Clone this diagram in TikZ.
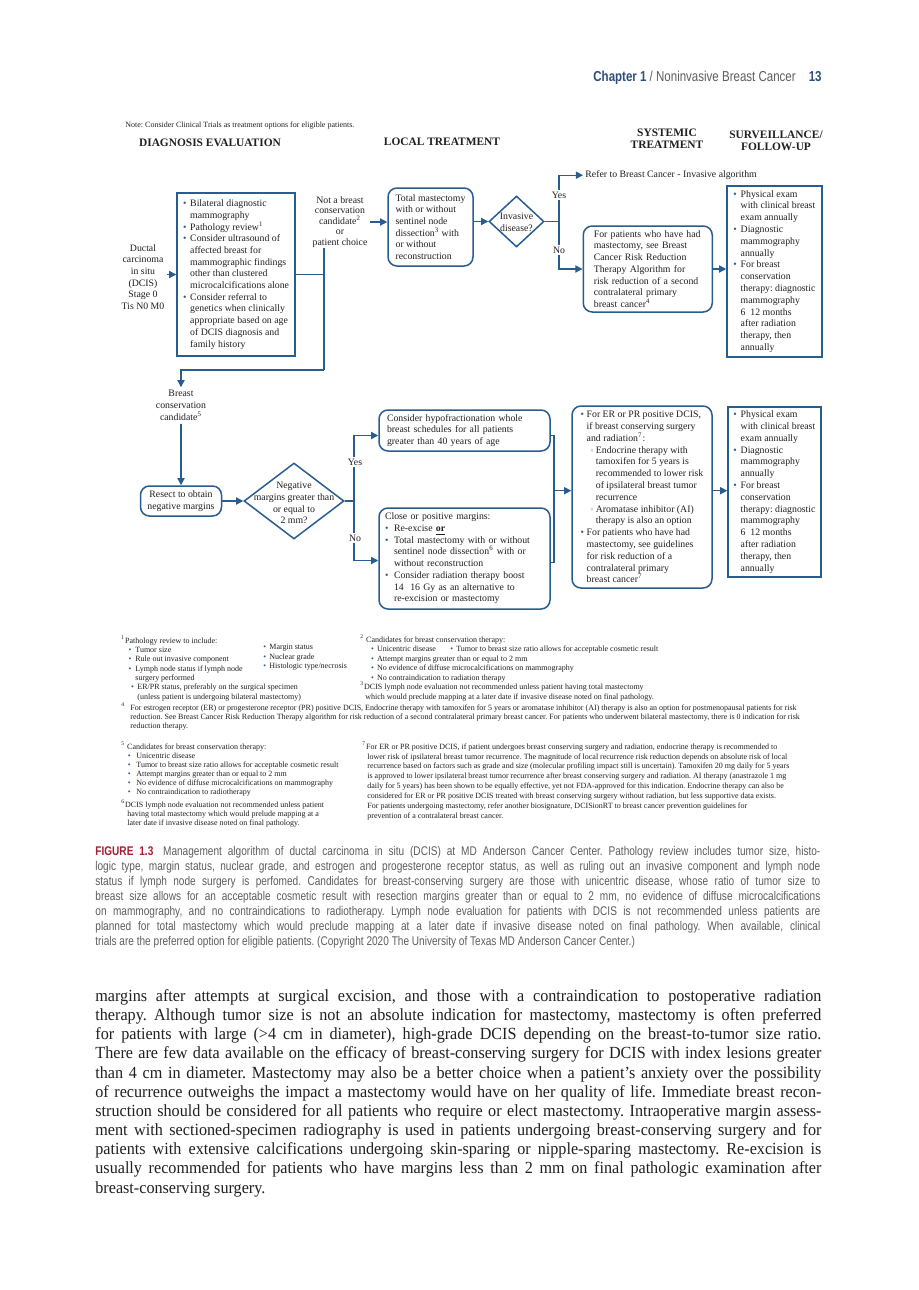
\documentclass[tikz,border=0pt]{standalone}
\usepackage{fontspec}
\setmainfont{Liberation Serif}
\newfontfamily\condsans[FakeStretch=0.8]{Liberation Sans}
\newfontfamily\bodyserif[FakeStretch=0.95]{Liberation Serif}
\newfontfamily\dejavu{DejaVu Sans}
\usetikzlibrary{shapes.geometric,arrows.meta}
\frenchspacing
\definecolor{dblue}{HTML}{2A5D8F}
\definecolor{hblue}{HTML}{2F4E7C}
\definecolor{fred}{HTML}{A31F34}
\definecolor{cgray}{HTML}{5E5E5E}
\definecolor{ink}{HTML}{231F20}
\newcommand\dfont{\fontsize{4.9}{5.85}\selectfont}
\newcommand\dfontb{\fontsize{4.9}{5.9}\selectfont}
\newcommand\hdfont{\fontsize{5.7}{6.1}\selectfont\bfseries}
\newcommand\ffont{\fontsize{4}{4.67}\selectfont}
\newcommand\bul[1][3.6pt]{\makebox[#1][l]{\textcolor{dblue}{•}}}
\newcommand\ind[1][3.6pt]{\hspace*{#1}}
\newcommand\sbul{\makebox[3pt][l]{\textcolor{dblue}{\dejavu\fontsize{3.6}{3.6}\selectfont ◦}}}
\newcommand\jl[2][363pt]{\makebox[#1][s]{#2}}
\begin{document}
\begin{tikzpicture}[x=0.5pt,y=-0.5pt,
  ln/.style={draw=dblue,line width=0.65pt},
  arr/.style={ln,-{Triangle[length=3.6pt,width=3.6pt]}},
  bx/.style={draw=dblue,line width=0.75pt,align=left,font=\dfont,text=ink,inner xsep=2pt,inner ysep=0pt},
  rbx/.style={bx,rounded corners=4.5pt},
  lbl/.style={font=\dfont,align=center,inner sep=1.2pt,text=ink},
  yn/.style={font=\dfont,fill=white,inner sep=0.8pt,text=ink},
  dia/.style={shape=diamond,draw=dblue,line width=0.75pt,inner sep=0pt},
  fn/.style={font=\ffont,align=left,inner sep=0pt,anchor=north west,text=ink},
  hd/.style={font=\hdfont,align=center,inner sep=0pt,text=ink}]
\fill[white] (0,0) rectangle (919,1290);
\useasboundingbox (0,0) rectangle (919,1290);

% running head
\node[anchor=mid west,inner sep=0,font=\condsans\fontsize{7.2}{8}\selectfont] (hdr) at (593,77)
  {\textcolor{hblue}{\bfseries Chapter 1}\ \textcolor{cgray}{/ Noninvasive Breast Cancer}};
\node[anchor=mid east,inner sep=0,font=\condsans\bfseries\fontsize{7.2}{8}\selectfont,text=hblue] (pg) at (822,77) {13};

% note and column heads
\node[fn,anchor=mid west] (note) at (125,123) {Note: Consider Clinical Trials as treatment options for eligible patients.};
\node[hd] (h1) at (210,143) {DIAGNOSIS EVALUATION};
\node[hd] (h2) at (442,142) {LOCAL TREATMENT};
\node[hd] (h3) at (667,139) {SYSTEMIC\\TREATMENT};
\node[hd] (h4) at (776,141) {SURVEILLANCE/\\FOLLOW-UP};

% upper flow
\node[lbl,font=\fontsize{4.9}{5.8}\selectfont] (dc) at (143,277) {Ductal\\carcinoma\\in situ\\(DCIS)\\Stage 0\\Tis N0 M0};
\node[bx,minimum width=59pt,minimum height=81.5pt] (b1) at (236,274.5)
 {\bul Bilateral diagnostic\\\ind mammography\\\bul Pathology review\textsuperscript{1}\\\bul Consider ultrasound of\\\ind affected breast for\\\ind mammographic findings\\\ind other than clustered\\\ind microcalcifications alone\\\bul Consider referral to\\\ind genetics when clinically\\\ind appropriate based on age\\\ind of DCIS diagnosis and\\\ind family history};
\node[lbl,font=\fontsize{4.9}{5.2}\selectfont] (nb) at (340,222) {Not a breast\\conservation\\candidate\textsuperscript{2}\\or\\patient choice};
\node[rbx,minimum width=42.5pt,minimum height=39pt] (tm) at (430.5,227)
 {Total mastectomy\\with or without\\sentinel node\\dissection\textsuperscript{3} with\\or without\\reconstruction};
\node[dia,minimum width=27.5pt,minimum height=25.5pt] (inv) at (516.5,221.5) {};
\node[lbl,inner sep=0pt] (invt) at (516.5,222.5) {Invasive\\disease?};
\coordinate (jv) at (559,221.5);
\node[anchor=mid west,font=\dfont,inner sep=1pt,text=ink] (ref) at (583,173) {Refer to Breast Cancer - Invasive algorithm};
\node[rbx,text width=53.9pt,inner xsep=5.3pt,minimum height=43pt] (fp) at (647.75,269)
 {For patients who have had\\mastectomy, see Breast\\Cancer Risk Reduction\\Therapy Algorithm for\\risk reduction of a second\\contralateral primary\\breast cancer\textsuperscript{4}};
\node[bx,font=\dfontb,minimum width=47.5pt,minimum height=85.5pt] (sv1) at (774.5,271.5)
 {\bul Physical exam\\\ind with clinical breast\\\ind exam annually\\\bul Diagnostic\\\ind mammography\\\ind annually\\\bul For breast\\\ind conservation\\\ind therapy: diagnostic\\\ind mammography\\\ind 6~~12 months\\\ind after radiation\\\ind therapy, then\\\ind annually};

% lower flow
\node[lbl,font=\fontsize{4.9}{6.1}\selectfont] (bcc) at (181,405.5) {Breast\\conservation\\candidate\textsuperscript{5}};
\node[rbx,align=center,minimum width=40.5pt,minimum height=15pt] (rs) at (181,501) {Resect to obtain\\negative margins};
\node[dia,minimum width=50pt,minimum height=38pt] (neg) at (294,501) {};
\node[lbl,inner sep=0pt] (negt) at (294,503) {Negative\\margins greater than\\or equal to\\2 mm?};
\node[rbx,text width=77.5pt,inner xsep=4pt,minimum height=20.5pt] (hf) at (464.5,430.5)
 {Consider hypofractionation whole\\breast schedules for all patients\\greater than 40 years of age};
\node[rbx,text width=79.5pt,inner xsep=3pt,minimum height=50.5pt] (cl) at (464.5,558.5)
 {Close or positive margins:\\\bul[4.5pt]Re-excise \textbf{\underline{or}}\\\bul[4.5pt]Total mastectomy with or without\\\ind[4.5pt]sentinel node dissection\textsuperscript{6} with or\\\ind[4.5pt]without reconstruction\\\bul[4.5pt]Consider radiation therapy boost\\\ind[4.5pt]14~~16 Gy as an alternative to\\\ind[4.5pt]re-excision or mastectomy};
\node[rbx,font=\dfontb,minimum width=70pt,minimum height=91pt] (er) at (642,497)
 {\bul[3pt]For ER or PR positive DCIS,\\\ind[3pt]if breast conserving surgery\\\ind[3pt]and radiation\textsuperscript{7}:\\\ind[4.6pt]\sbul Endocrine therapy with\\\ind[7.6pt]tamoxifen for 5 years is\\\ind[7.6pt]recommended to lower risk\\\ind[7.6pt]of ipsilateral breast tumor\\\ind[7.6pt]recurrence\\\ind[4.6pt]\sbul Aromatase inhibitor (AI)\\\ind[7.6pt]therapy is also an option\\\bul[3pt]For patients who have had\\\ind[3pt]mastectomy, see guidelines\\\ind[3pt]for risk reduction of a\\\ind[3pt]contralateral primary\\\ind[3pt]breast cancer\textsuperscript{7}};
\node[bx,font=\dfontb,minimum width=46.5pt,minimum height=85pt] (sv2) at (774.5,492)
 {\bul Physical exam\\\ind with clinical breast\\\ind exam annually\\\bul Diagnostic\\\ind mammography\\\ind annually\\\bul For breast\\\ind conservation\\\ind therapy: diagnostic\\\ind mammography\\\ind 6~~12 months\\\ind after radiation\\\ind therapy, then\\\ind annually};

% connectors upper
\coordinate (j1) at (324,248);
\coordinate (j2) at (324,370);
\draw[arr] (dc.east |- b1.west) -- (b1.west);
\draw[ln] (b1.east) -- (b1.east -| j1);
\draw[ln] (j1) -- (j2);
\draw[arr] (j2) -| (bcc.north);
\draw[arr] (nb.east) -- (nb.east -| tm.west);
\draw[arr] (tm.east |- inv.west) -- (inv.west);
\draw[ln] (inv.east) -- (jv);
\draw[arr] (jv) |- (ref.west);
\draw[arr] (jv) |- (fp.west);
\node[yn] (yes1) at (559,195) {Yes};
\node[yn] (no1) at (559,250) {No};
\draw[arr] (fp.east) -- (fp.east -| sv1.west);

% connectors lower
\draw[arr] (bcc.south) -- (rs.north);
\draw[arr] (rs.east) -- (neg.west);
\coordinate (jm) at (354,501);
\draw[ln] (neg.east) -- (jm);
\draw[arr] (jm) |- ([yshift=-2.5pt]hf.west);
\draw[arr] (jm) |- ([yshift=-1pt]cl.west);
\node[yn] (yes2) at (355,462) {Yes};
\node[yn] (no2) at (355,538) {No};
\coordinate (jr) at (554,490.7);
\draw[ln] ([yshift=-2.5pt]hf.east) -| (jr);
\draw[ln] (jr) |- ([yshift=-2pt]cl.east);
\draw[arr] (jr) -- (jr -| er.west);
\draw[arr] (jr -| er.east) -- (jr -| sv2.west);

% footnotes
\node[fn] (fn1) at (121,635)
 {\textsuperscript{1}Pathology review to include:\\
  \ind[3.65pt]\bul[3.35pt]Tumor size\\
  \ind[3.65pt]\bul[3.35pt]Rule out invasive component\\
  \ind[3.65pt]\bul[3.35pt]Lymph node status if lymph node\\
  \ind[7pt]surgery performed\\
  \ind[4.85pt]\bul[3.15pt]ER/PR status, preferably on the surgical specimen\\
  \ind[8pt](unless patient is undergoing bilateral mastectomy)};
\node[fn] (fn1b) at (263,644)
 {\bul[3pt]Margin status\\\bul[3pt]Nuclear grade\\\bul[3pt]Histologic type/necrosis};
\node[fn,font=\fontsize{4}{4.78}\selectfont] (fn2) at (360,634)
 {\textsuperscript{2} Candidates for breast conservation therapy:\\
  \ind[5.35pt]\bul[3pt]\makebox[36.6pt][l]{Unicentric disease}\bul[3pt]Tumor to breast size ratio allows for acceptable cosmetic result\\
  \ind[5.35pt]\bul[3pt]Attempt margins greater than or equal to 2 mm\\
  \ind[5.35pt]\bul[3pt]No evidence of diffuse microcalcifications on mammography\\
  \ind[5.35pt]\bul[3pt]No contraindication to radiation therapy\\
  \textsuperscript{3}DCIS lymph node evaluation not recommended unless patient having total mastectomy\\
  \ind[2.5pt]which would preclude mapping at a later date if invasive disease noted on final pathology.};
\node[fn] (fn4) at (121,702)
 {\makebox[4.5pt][l]{\textsuperscript{4}}For estrogen receptor (ER) or progesterone receptor (PR) positive DCIS, Endocrine therapy with tamoxifen for 5 years or aromatase inhibitor (AI) therapy is also an option for postmenopausal patients for risk\\
  \ind[4.5pt]reduction. See Breast Cancer Risk Reduction Therapy algorithm for risk reduction of a second contralateral primary breast cancer. For patients who underwent bilateral mastectomy, there is 0 indication for risk\\
  \ind[4.5pt]reduction therapy.};
\node[fn,font=\fontsize{4}{4.5}\selectfont] (fn5) at (121,741)
 {\textsuperscript{5} Candidates for breast conservation therapy:\\
  \ind[3.25pt]\bul[4.25pt]Unicentric disease\\
  \ind[3.25pt]\bul[4.25pt]Tumor to breast size ratio allows for acceptable cosmetic result\\
  \ind[3.25pt]\bul[4.25pt]Attempt margins greater than or equal to 2 mm\\
  \ind[3.25pt]\bul[4.25pt]No evidence of diffuse microcalcifications on mammography\\
  \ind[3.25pt]\bul[4.25pt]No contraindication to radiotherapy\\[1pt]
  \textsuperscript{6}DCIS lymph node evaluation not recommended unless patient\\
  \ind[3pt]having total mastectomy which would prelude mapping at a\\
  \ind[3pt]later date if invasive disease noted on final pathology.};
\node[fn,font=\fontsize{4}{4.95}\selectfont] (fn7) at (362,741)
 {\textsuperscript{7}For ER or PR positive DCIS, if patient undergoes breast conserving surgery and radiation, endocrine therapy is recommended to\\
  \ind[2.5pt]lower risk of ipsilateral breast tumor recurrence. The magnitude of local recurrence risk reduction depends on absolute risk of local\\
  \ind[2.5pt]recurrence based on factors such as grade and size (molecular profiling impact still is uncertain). Tamoxifen 20 mg daily for 5 years\\
  \ind[2.5pt]is approved to lower ipsilateral breast tumor recurrence after breast conserving surgery and radiation. AI therapy (anastrazole 1 mg\\
  \ind[2.5pt]daily for 5 years) has been shown to be equally effective, yet not FDA-approved for this indication. Endocrine therapy can also be\\
  \ind[2.5pt]considered for ER or PR positive DCIS treated with breast conserving surgery without radiation, but less supportive data exists.\\
  \ind[2.5pt]For patients undergoing mastectomy, refer another biosignature, DCISionRT to breast cancer prevention guidelines for\\
  \ind[2.5pt]prevention of a contralateral breast cancer.};

% caption
\node[anchor=north west,inner sep=0pt,align=left,font=\condsans\fontsize{6.3}{7.5}\selectfont,text=cgray] (cap) at (95,846)
 {\jl[362.5pt]{\textcolor{fred}{\bfseries FIGURE 1.3}\hspace{0.3em} Management algorithm of ductal carcinoma in situ (DCIS) at MD Anderson Cancer Center. Pathology review includes tumor size, histo-}\\
  \jl[362.5pt]{logic type, margin status, nuclear grade, and estrogen and progesterone receptor status, as well as ruling out an invasive component and lymph node}\\
  \jl[362.5pt]{status if lymph node surgery is perfomed. Candidates for breast-conserving surgery are those with unicentric disease, whose ratio of tumor size to}\\
  \jl[362.5pt]{breast size allows for an acceptable cosmetic result with resection margins greater than or equal to 2 mm, no evidence of diffuse microcalcifications}\\
  \jl[362.5pt]{on mammography, and no contraindications to radiotherapy. Lymph node evaluation for patients with DCIS is not recommended unless patients are}\\
  \jl[362.5pt]{planned for total mastectomy which would preclude mapping at a later date if invasive disease noted on final pathology. When available, clinical}\\
  trials are the preferred option for eligible patients. (Copyright 2020 The University of Texas MD Anderson Cancer Center.)};

% body text
\node[anchor=north west,inner sep=0pt,align=left,font=\bodyserif\fontsize{8.5}{9.585}\selectfont,text=ink] (body) at (95,989)
 {\jl{margins after attempts at surgical excision, and those with a contraindication to postoperative radiation}\\
  \jl{therapy. Although tumor size is not an absolute indication for mastectomy, mastectomy is often preferred}\\
  \jl{for patients with large (>4 cm in diameter), high-grade DCIS depending on the breast-to-tumor size ratio.}\\
  \jl{There are few data available on the efficacy of breast-conserving surgery for DCIS with index lesions greater}\\
  \jl{than 4 cm in diameter. Mastectomy may also be a better choice when a patient’s anxiety over the possibility}\\
  \jl{of recurrence outweighs the impact a mastectomy would have on her quality of life. Immediate breast recon-}\\
  \jl{struction should be considered for all patients who require or elect mastectomy. Intraoperative margin assess-}\\
  \jl{ment with sectioned-specimen radiography is used in patients undergoing breast-conserving surgery and for}\\
  \jl{patients with extensive calcifications undergoing skin-sparing or nipple-sparing mastectomy. Re-excision is}\\
  \jl{usually recommended for patients who have margins less than 2 mm on final pathologic examination after}\\
  breast-conserving surgery.};
\end{tikzpicture}
\end{document}
